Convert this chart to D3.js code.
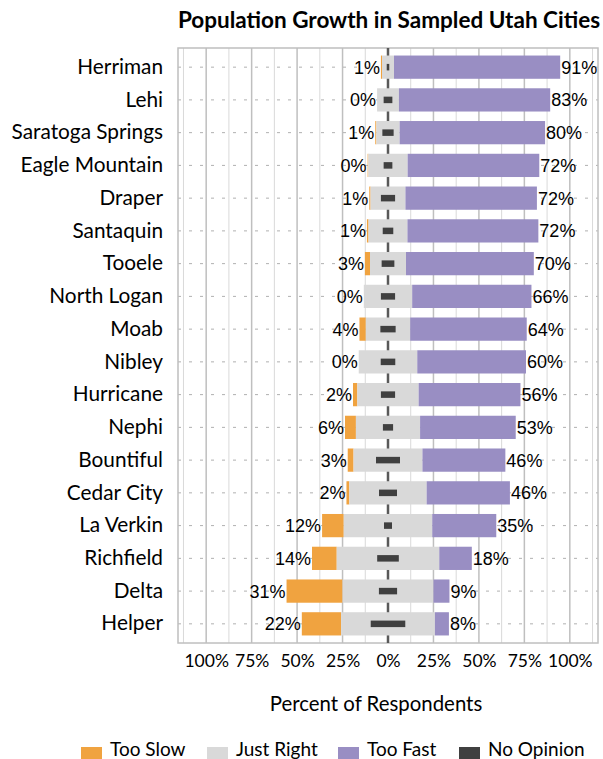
<!DOCTYPE html>
<html>
<head>
<meta charset="utf-8">
<script src="https://cdn.jsdelivr.net/npm/d3@7"></script>
<style>
body { margin: 0; background: #fff; }
text { font-family: Lato, "Open Sans", sans-serif; fill: #000; }
</style>
</head>
<body>
<script>
// survey results, percent of respondents
var cities = ["Herriman", "Lehi", "Saratoga Springs", "Eagle Mountain", "Draper", "Santaquin",
	"Tooele", "North Logan", "Moab", "Nibley", "Hurricane", "Nephi", "Bountiful",
	"Cedar City", "La Verkin", "Richfield", "Delta", "Helper"];
var tooSlow   = [0.6, 0, 0.6, 0.4, 0.7, 0.9, 2.8, 0, 3.5, 0, 2.4, 6.0, 3.2, 1.6, 11.9, 13.6, 30.8, 21.6];
var justRight = [6.6, 12.0, 12.8, 21.6, 19.2, 21.4, 19.8, 26.6, 24.4, 32.2, 33.7, 35.3, 37.9, 42.5, 48.7, 56.4, 50.0, 51.6];
var tooFast   = [91.4, 83.2, 80.0, 72.4, 72.3, 72.0, 70.3, 65.6, 64.1, 59.8, 56.0, 52.6, 45.6, 45.8, 35.2, 17.9, 8.8, 7.7];
var noOpinion = [1.4, 4.8, 6.2, 4.8, 7.8, 5.8, 7.0, 7.8, 8.4, 8.0, 7.8, 5.6, 13.2, 9.9, 4.4, 11.9, 10.0, 19.0];
var tickValues = [-100, -75, -50, -25, 0, 25, 50, 75, 100];
var legendNames = ["Too Slow", "Just Right", "Too Fast", "No Opinion"];
var colors = ["#f0a340", "#d9d9d9", "#998ec3", "#404040"];

var width = 603, height = 759;
var plot = {left: 178, right: 598, top: 48, bottom: 643};

var svg = d3.select("body").append("svg")
	.attr("width", width)
	.attr("height", height);

var x = d3.scaleLinear()
	.domain([-115.5, 115.5])
	.range([plot.left, plot.right]);
var y = d3.scaleBand()
	.domain(cities)
	.range([plot.top, plot.bottom])
	.paddingInner(0.29)
	.paddingOuter(0.23);

var rows = cities.map(function(c, i) {
	return {city: c, slow: tooSlow[i], just: justRight[i], fast: tooFast[i], none: noOpinion[i]};
});

// title
svg.append("text")
	.attr("x", 389)
	.attr("y", 28)
	.attr("text-anchor", "middle")
	.style("font-weight", "bold")
	.style("font-size", "22.5px")
	.text("Population Growth in Sampled Utah Cities");

// vertical grid, minor every 12.5%
var minor = d3.range(-112.5, 113, 12.5).filter(function(v) { return v % 25 !== 0; });
svg.append("g").selectAll("line")
	.data(minor)
	.enter().append("line")
	.attr("x1", function(d) { return x(d); })
	.attr("x2", function(d) { return x(d); })
	.attr("y1", plot.top)
	.attr("y2", plot.bottom)
	.attr("stroke", "#d9d9d9")
	.attr("stroke-width", 1);
svg.append("g").selectAll("line")
	.data(tickValues.filter(function(v) { return v !== 0; }))
	.enter().append("line")
	.attr("x1", function(d) { return x(d); })
	.attr("x2", function(d) { return x(d); })
	.attr("y1", plot.top)
	.attr("y2", plot.bottom)
	.attr("stroke", "#bfbfbf")
	.attr("stroke-width", 1.5);

// dashed row lines
svg.append("g").selectAll("line")
	.data(cities)
	.enter().append("line")
	.attr("x1", plot.left)
	.attr("x2", plot.right)
	.attr("y1", function(d) { return y(d) + y.bandwidth() / 2; })
	.attr("y2", function(d) { return y(d) + y.bandwidth() / 2; })
	.attr("stroke", "#b0b0b0")
	.attr("stroke-dasharray", "3,8");

// frame
svg.append("rect")
	.attr("x", plot.left)
	.attr("y", plot.top)
	.attr("width", plot.right - plot.left)
	.attr("height", plot.bottom - plot.top)
	.attr("fill", "none")
	.attr("stroke", "#bfbfbf")
	.attr("stroke-width", 1.5);

// zero line
svg.append("line")
	.attr("x1", x(0)).attr("x2", x(0))
	.attr("y1", plot.top).attr("y2", plot.bottom)
	.attr("stroke", "#595959")
	.attr("stroke-width", 2.5);

var bars = svg.append("g").selectAll("g")
	.data(rows)
	.enter().append("g")
	.attr("transform", function(d) { return "translate(0," + y(d.city) + ")"; });

bars.append("rect")
	.attr("x", function(d) { return x(-d.just / 2 - d.slow); })
	.attr("width", function(d) { return x(-d.just / 2) - x(-d.just / 2 - d.slow); })
	.attr("height", y.bandwidth())
	.attr("fill", colors[0]);
bars.append("rect")
	.attr("x", function(d) { return x(-d.just / 2); })
	.attr("width", function(d) { return x(d.just / 2) - x(-d.just / 2); })
	.attr("height", y.bandwidth())
	.attr("fill", colors[1]);
bars.append("rect")
	.attr("x", function(d) { return x(d.just / 2); })
	.attr("width", function(d) { return x(d.just / 2 + d.fast) - x(d.just / 2); })
	.attr("height", y.bandwidth())
	.attr("fill", colors[2]);
bars.append("rect")
	.attr("x", function(d) { return x(-d.none / 2); })
	.attr("width", function(d) { return x(d.none / 2) - x(-d.none / 2); })
	.attr("y", y.bandwidth() * 0.36)
	.attr("height", y.bandwidth() * 0.28)
	.attr("fill", colors[3]);

bars.append("text")
	.attr("x", function(d) { return x(-d.just / 2 - d.slow) - 1; })
	.attr("y", y.bandwidth() / 2)
	.attr("dy", "0.36em")
	.attr("text-anchor", "end")
	.style("font-family", "'Liberation Sans', Arial, sans-serif")
	.style("font-size", "18px")
	.text(function(d) { return Math.round(d.slow) + "%"; });
bars.append("text")
	.attr("x", function(d) { return x(d.just / 2 + d.fast) + 1; })
	.attr("y", y.bandwidth() / 2)
	.attr("dy", "0.36em")
	.style("font-family", "'Liberation Sans', Arial, sans-serif")
	.style("font-size", "18px")
	.text(function(d) { return Math.round(d.fast) + "%"; });

// city labels
svg.append("g")
	.attr("transform", "translate(" + (plot.left - 15) + ",0)")
	.call(d3.axisLeft(y).tickSize(0).tickPadding(0))
	.call(function(g) { g.select(".domain").remove(); })
	.selectAll("text")
	.style("font-family", "Lato, sans-serif")
	.style("font-size", "20.8px")
	.attr("fill", "#000");

// x axis
svg.append("g")
	.attr("transform", "translate(0," + plot.bottom + ")")
	.call(d3.axisBottom(x).tickValues(tickValues).tickSize(0).tickPadding(12)
		.tickFormat(function(d) { return Math.abs(d) + "%"; }))
	.call(function(g) { g.select(".domain").remove(); })
	.selectAll("text")
	.style("font-family", "Lato, sans-serif")
	.style("font-size", "17.5px")
	.attr("fill", "#000");

svg.append("text")
	.attr("x", 376)
	.attr("y", 711)
	.attr("text-anchor", "middle")
	.style("font-size", "20.4px")
	.text("Percent of Respondents");

// legend
var legendX = [81, 207, 338, 459];
var legend = svg.append("g").selectAll("g")
	.data(legendNames)
	.enter().append("g")
	.attr("transform", function(d, i) { return "translate(" + legendX[i] + ",747)"; });
legend.append("rect")
	.attr("width", 21)
	.attr("height", 21)
	.attr("fill", function(d, i) { return colors[i]; });
legend.append("text")
	.attr("x", 29)
	.attr("y", 8.5)
	.style("font-size", "19px")
	.text(function(d) { return d; });
</script>
</body>
</html>
